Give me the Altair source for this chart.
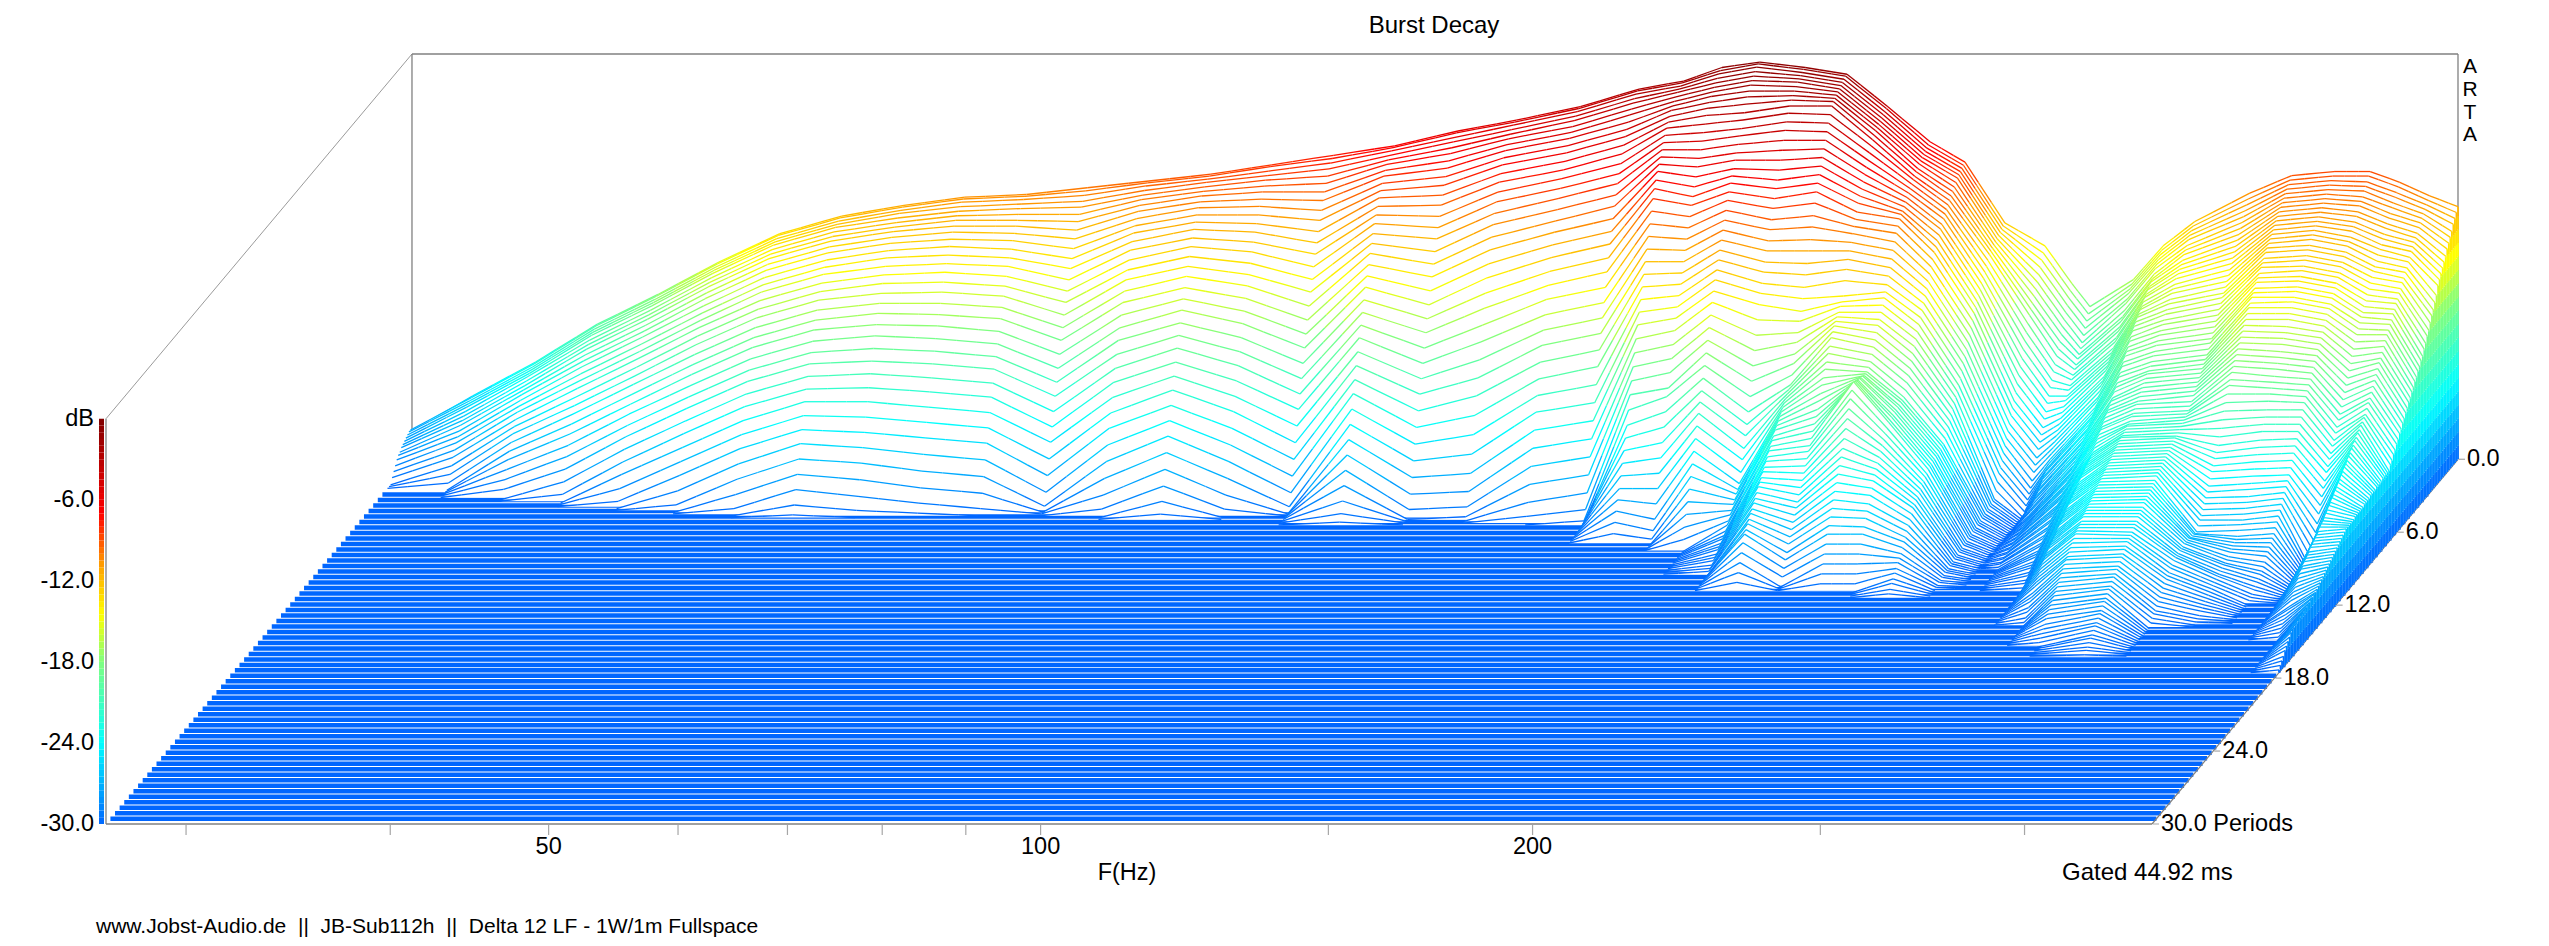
import altair as alt
import numpy as np
import pandas as pd

# dB above the -30 dB floor, in tenths, per frequency column, every 0.15 period; after the list: floor
c027=[21,23,23,22,21,20,19,18,16,15,13,10,7,4,0]
c029=[47,47,46,45,44,42,40,38,36,33,30,27,23,19,14,9,4,0]
c032=[72,72,71,70,69,68,66,64,62,60,57,54,51,47,43,39,34,29,24,18,12,6,0]
c035=[100,100,99,98,97,95,93,91,88,85,82,78,74,70,65,60,55,49,43,36,29,21,13,5,0]
c038=[122,122,121,120,119,117,115,113,110,107,104,100,96,92,87,82,77,71,65,59,52,45,37,29,21,12,4,0]
c041=[146,146,145,144,143,141,139,137,134,131,127,123,119,115,110,105,99,93,87,80,73,66,58,50,41,32,23,13,4,0]
c045=[167,167,166,165,164,162,160,158,155,152,148,144,140,135,130,125,119,113,107,100,93,86,78,70,61,52,43,33,23,13,4,0]
c049=[180,180,179,178,177,175,173,171,168,165,161,157,153,148,143,138,132,126,120,113,106,99,91,83,75,66,57,48,38,28,18,8,2,0]
c054=[188,188,187,186,184,182,180,178,175,172,168,164,159,154,149,143,137,131,124,117,109,101,93,84,75,65,55,45,35,24,13,4,0]
c058=[194,194,193,191,189,187,185,182,179,175,171,166,161,156,150,144,137,130,123,115,107,99,90,81,71,61,51,40,29,18,8,2,0]
c064=[196,196,195,193,191,188,185,182,178,174,169,164,159,153,147,141,134,127,119,111,103,95,86,77,67,57,47,36,25,14,4,0]
c069=[201,200,198,195,192,188,184,179,174,168,162,156,149,142,135,127,119,111,102,93,84,75,65,55,45,34,23,12,3,0]
c076=[206,206,205,203,201,199,196,193,189,185,181,176,171,165,159,153,146,139,131,123,115,106,97,88,78,68,58,47,36,25,14,5,0]
c083=[211,211,210,209,207,205,203,200,197,193,189,185,180,175,169,163,157,150,143,136,128,120,112,103,94,85,75,65,55,44,33,22,12,4,0]
c090=[218,218,216,214,212,209,206,202,198,193,188,183,177,171,164,157,150,142,134,126,117,108,99,89,79,69,58,47,36,25,14,5,0]
c098=[225,224,222,219,215,211,206,201,195,189,182,175,168,160,152,144,135,126,117,108,98,88,78,68,57,46,35,24,13,4,0]
c107=[232,232,231,229,227,225,222,219,215,211,207,202,197,192,186,180,174,167,160,153,145,137,129,121,112,103,94,85,75,65,55,45,35,25,15,7,2,0]
c117=[243,243,241,239,236,233,229,225,220,215,209,203,196,189,182,174,166,158,149,140,131,122,112,102,92,82,71,60,49,38,27,16,6,0]
c127=[251,251,250,248,246,244,241,238,234,230,225,220,214,208,201,194,186,178,169,160,150,140,129,118,106,94,82,69,56,43,30,18,8,2,0]
c139=[261,261,260,258,256,253,250,247,243,239,234,229,224,218,212,205,198,191,183,175,166,157,148,138,128,118,107,96,85,74,62,50,38,26,14,5,0]
c151=[274,274,273,271,269,266,263,259,255,251,246,241,235,229,223,216,209,201,193,185,176,167,157,147,137,127,116,105,93,81,69,57,45,33,21,10,3,0]
c161=[280,280,279,278,277,275,273,271,269,266,263,260,256,252,248,244,240,236,231,226,220,212,204,196,188,180,172,164,156,148,140,131,122,113,104,95,85,75,67,59,51,43,35,28,21,14,7,0]
c170=[290,289,288,286,284,282,280,278,275,272,268,263,258,253,248,243,238,232,226,220,215,208,201,194,187,180,173,166,159,152,145,137,128,119,110,100,95,85,75,65,55,45,35,25,15,8,3,0]
c179=[294,294,293,291,289,287,285,282,279,275,270,266,261,257,252,247,243,238,234,230,225,220,214,208,202,196,190,184,178,172,165,158,150,142,134,126,118,110,102,95,88,80,72,64,56,48,40,32,24,16,8,0]
c191=[290,290,289,288,287,286,284,282,280,278,275,271,266,261,255,249,243,237,231,226,220,214,207,201,194,188,181,175,168,162,155,145,135,125,115,105,95,85,77,70,62,55,47,40,37,35,32,30,27,25,22,20,17,15,14,12,11,10,8,7,6,4,3,2,0]
c202=[285,285,284,283,282,281,280,279,278,277,275,270,265,260,255,250,245,240,235,230,225,218,210,203,195,188,180,173,165,158,150,144,137,131,124,118,111,105,103,101,99,97,95,93,91,89,87,85,82,80,77,75,72,70,67,65,62,60,58,55,52,50,47,45,42,40,37,35,30,24,18,12,6,0]
c214=[261,261,260,259,258,257,256,255,254,252,250,247,243,239,235,231,227,223,219,215,210,206,202,198,193,188,183,177,170,160,157,155,152,150,148,146,143,140,135,131,126,122,117,113,108,104,99,95,91,87,83,79,76,72,68,64,60,56,52,48,45,41,37,33,29,25,20,16,11,6,0]
c228=[235,234,233,232,231,230,229,228,226,225,223,222,220,218,216,214,212,210,208,207,205,201,197,192,187,182,177,172,167,163,160,156,152,148,145,141,137,133,129,125,122,120,120,120,121,121,122,122,123,124,125,120,115,109,103,97,91,85,80,75,70,65,60,55,50,45,40,35,29,23,17,11,5,0]
c239=[220,219,218,217,216,215,213,211,209,207,205,203,201,199,197,194,192,189,186,183,180,176,172,168,164,160,156,152,148,144,140,136,132,128,124,120,116,112,108,104,100,99,99,98,98,97,97,96,96,95,95,92,89,86,83,80,77,74,71,68,65,61,57,52,48,44,39,35,29,23,17,11,5,0]
c253=[175,174,173,172,171,170,169,168,167,166,165,162,159,156,153,150,147,144,141,138,135,131,127,123,119,115,111,107,103,99,95,92,89,86,83,80,77,74,71,68,65,65,64,64,63,63,62,62,61,61,60,58,57,55,54,52,51,49,48,46,45,42,39,36,33,30,28,25,22,20,18,15,13,10,8,5,3,0]
c268=[158,154,150,146,142,138,134,130,126,123,120,115,110,105,100,95,90,85,80,75,70,66,62,57,53,49,45,41,37,33,30,25,20,15,15,14,14,13,13,12,12,12,11,11,11,10,10,10,9,9,9,8,8,8,7,7,7,6,6,6,5,5,5,4,4,4,3,3,2,2,1,1,0]
c278=[130,126,122,118,114,110,106,102,98,94,90,85,81,76,72,67,63,58,54,49,45,41,37,32,28,24,19,15,12,9,6,3,0]
c285=[113,109,105,101,97,93,90,87,85,82,80,77,75,72,70,67,65,62,59,56,53,50,47,44,41,38,35,33,31,30,28,27,25,23,22,20,19,17,15,14,12,11,11,10,9,9,8,8,7,7,6,6,5,5,4,4,3,3,2,2,1,0]
c303=[133,131,129,127,124,122,118,115,113,110,108,105,103,100,98,96,94,92,90,87,85,83,80,77,75,72,70,68,67,65,63,62,60,58,57,55,53,52,50,48,47,45,44,43,41,40,39,37,36,35,33,32,31,30,28,27,25,24,22,21,19,18,16,15,14,12,11,10,8,7,5,4,2,0]
c316=[158,156,154,152,150,148,145,143,142,140,139,137,136,134,132,131,129,128,126,124,122,119,117,114,112,110,107,105,102,100,97,95,93,90,89,87,85,84,82,80,78,77,75,73,71,69,67,66,65,64,63,62,61,60,59,57,56,55,54,53,52,51,50,48,47,46,45,44,43,41,40,39,38,37,36,35,33,32,31,29,27,25,23,21,19,16,14,12,9,7,4,2,0]
c330=[176,174,172,170,168,165,163,161,158,156,154,152,150,147,145,143,140,138,135,133,130,128,125,123,120,118,115,113,110,108,106,105,103,101,99,97,95,93,92,90,88,87,85,84,84,83,82,81,81,80,79,78,77,76,75,74,73,72,71,70,69,68,67,66,65,64,63,62,61,60,59,58,57,56,54,53,52,51,50,48,46,44,42,40,39,37,35,33,31,29,27,25,23,21,19,17,15,13,10,8,6,4,2,0]
c357=[197,194,191,188,185,182,179,176,173,170,167,164,161,158,155,152,149,146,144,141,138,135,132,129,126,123,121,118,115,113,111,109,107,105,103,101,99,97,94,92,90,89,88,87,86,85,84,83,82,82,81,80,79,78,77,76,75,74,73,72,71,70,68,67,66,65,64,63,62,61,59,58,57,56,54,53,52,50,49,48,47,45,44,42,41,39,37,36,34,33,31,29,28,26,24,23,21,19,18,16,14,13,11,9,8,6,4,3,1,0]
c379=[210,208,206,204,202,200,198,196,194,192,190,188,186,184,182,180,178,176,173,171,169,166,164,162,159,157,155,152,150,147,144,141,138,135,132,129,126,123,120,117,113,110,105,100,95,90,85,80,75,71,68,64,61,57,53,50,47,44,41,38,36,33,30,30,31,31,31,32,32,32,32,31,31,31,30,30,30,29,27,26,24,23,22,20,18,16,14,12,10,8,7,5,3,0]
c402=[213,211,209,207,205,203,201,199,197,195,193,191,189,187,185,183,180,178,175,173,170,168,165,163,160,158,155,153,150,147,144,140,137,134,131,127,124,121,118,114,111,108,105,101,96,92,88,84,79,75,71,67,63,59,55,52,48,45,42,39,36,34,31,28,27,26,25,24,23,21,20,19,19,18,17,16,16,15,14,13,12,11,10,9,8,7,6,5,3,2,1,0]
c423=[213,211,208,206,204,201,199,197,194,192,189,187,185,182,180,178,175,173,170,168,165,163,160,158,155,153,150,148,145,142,139,136,133,130,127,124,121,118,115,112,109,106,103,100,96,92,88,84,80,76,72,68,64,60,57,54,51,48,45,42,39,36,33,30,28,26,24,22,20,17,15,13,12,10,9,7,6,4,3,2,0]
c441=[205,203,200,198,195,193,190,188,185,183,180,178,175,173,170,167,164,162,159,156,153,150,147,144,141,139,136,133,130,126,122,118,114,110,106,102,98,94,90,86,83,79,76,72,69,65,62,58,55,50,46,41,36,31,25,20,15,10,5,0]
c460=[195,193,191,189,187,185,183,181,178,176,174,172,170,167,165,162,160,157,155,152,150,147,145,142,140,137,135,132,130,127,124,121,118,116,113,110,107,104,101,98,96,93,90,89,87,86,84,83,81,80,78,77,75,74,72,71,70,68,67,65,64,62,61,59,58,56,55,53,52,50,49,48,47,45,44,43,42,41,40,38,37,36,35,33,32,30,28,26,24,22,20,18,15,14,12,10,8,6,4,2,0]
c479=[187,184,181,178,174,171,168,165,161,158,155,152,149,146,140,136,132,129,125,121,118,114,111,107,105,102,100,97,95,92,90,87,85,82,80,77,75,72,70,67,65,62,60,57,55,52,52,52,52,52,51,51,51,51,50,50,50,50,49,49,49,49,48,48,48,48,48,48,47,47,47,47,47,47,46,45,44,43,42,41,40,39,38,37,36,35,34,33,32,31,30,29,28,27,27,26,26,25,25,24,24,23,23,22,22,21,21,20,20,19,17,15,13,11,8,6,4,2,0]

FREQS=[26.8,29.2,31.9,34.8,37.9,41.3,45.0,49.1,53.6,58.4,63.7,69.4,75.7,82.6,90.0,98.2,107,117,127,139,151,160.8,169.7,179,190.8,202.4,214.4,227.5,239,252.8,267.5,277.9,285,303,316,330.4,357,378.7,402,423,441,460,478.7]
COLS=[c027,c029,c032,c035,c038,c041,c045,c049,c054,c058,c064,c069,c076,c083,c090,c098,c107,c117,c127,c139,c151,c161,c170,c179,c191,c202,c214,c228,c239,c253,c268,c278,c285,c303,c316,c330,c357,c379,c402,c423,c441,c460,c479]
DT=0.15
F_TICKS=[30,40,50,60,70,80,90,100,150,200,300,400]
F_LABELS=[50,100,200]
DB_TICKS=[-30,-24,-18,-12,-6]
PERIOD_TICKS=[0,6,12,18,24,30]
PERIOD_TEXT=["0.0","6.0","12.0","18.0","24.0","30.0 Periods"]
COLOR_DB=[-30,-24,-18,-14.5,-11,-7,0]
COLOR_HEX=["#0066ff","#00ffff","#80ff80","#ffff00","#ffa500","#ff0000","#800000"]
FOOTER="www.Jobst-Audio.de\u00a0 ||\u00a0 JB-Sub112h\u00a0 ||\u00a0 Delta 12 LF - 1W/1m Fullspace"
FONT="Liberation Sans"
W,H=2352,770
SHIFT_OCT=306/492
DROP_DB=27.0
F0,F1=FREQS[0],FREQS[-1]

def fe(f,t): return f*2**(-SHIFT_OCT*t/30)
def ye(db,t): return db-DROP_DB*t/30

xs=alt.Scale(type="log",domain=[fe(F0,30),F1],range=[0,W],nice=False,clamp=False)
ys=alt.Scale(domain=[-57,0],range=[H,0],nice=False)
cs=alt.Scale(domain=COLOR_DB,range=COLOR_HEX,interpolate="rgb",clamp=True)

def X(n): return alt.X(n+":Q",scale=xs,axis=None)
def Y(n): return alt.Y(n+":Q",scale=ys,axis=None)
def C(n): return alt.Color(n+":Q",scale=cs,legend=None)

def rules(df,color=None,sw=1.3,opacity=1):
    m=alt.Chart(df).mark_rule(strokeWidth=sw,opacity=opacity,strokeCap="butt",**({"color":color} if color else {}))
    enc=dict(x=X("x0"),x2="x1",y=Y("y0"),y2="y1")
    if not color: enc["color"]=C("db")
    return m.encode(**enc)

layers=[]
# floor bands
band_t=np.arange(2.9,30.0,0.452)
floor=pd.DataFrame({"x0":[fe(F0,t) for t in band_t],"x1":[fe(F1,t) for t in band_t],
                    "y0":[ye(-30,t) for t in band_t],"y1":[ye(-30,t) for t in band_t]})
layers.append(rules(floor,color="#0066ff",sw=4.5))

# frame
fr=[(F0,0,-30,F0,0,0,1.3),(F0,0,0,F1,0,0,1.3),(F1,0,0,F1,0,-30,1.3),(F0,0,0,F0,30,0,.8),
    (F1,0,-30,F1,30,-30,1.2),(F0,30,-30,F1,30,-30,1.6),(F0,30,-30,F0,30,0,1.3)]
for w in sorted({r[6] for r in fr}):
    d=pd.DataFrame([{"x0":fe(a,b),"y0":ye(c,b),"x1":fe(d_,e),"y1":ye(g,e)} for a,b,c,d_,e,g,ww in fr if ww==w])
    layers.append(rules(d,color="#808080",sw=w))

# slices, back to front (white fill hides what is behind)
n_slices=max(len(c) for c in COLS)
def level(col,i): return (col[i] if i<len(col) else 0)/10-30
for i in range(n_slices):
    t=i*DT
    rows=[{"x":fe(f,t),"y":ye(level(c,i),t),"b":ye(-30,t)} for f,c in zip(FREQS,COLS)]
    df=pd.DataFrame(rows)
    layers.append(alt.Chart(df).mark_area(color="white",opacity=1,interpolate="linear").encode(x=X("x"),y=Y("y"),y2="b:Q"))
    segs=[]
    for j in range(len(FREQS)-1):
        a,b=level(COLS[j],i),level(COLS[j+1],i)
        if a<=-30 and b<=-30: continue
        xa,xb=np.log(fe(FREQS[j],t)),np.log(fe(FREQS[j+1],t))
        for k in range(3):
            u0,u1=k/3,(k+1)/3
            segs.append({"x0":float(np.exp(xa+(xb-xa)*u0)),"x1":float(np.exp(xa+(xb-xa)*u1)),
                         "y0":ye(a+(b-a)*u0,t),"y1":ye(a+(b-a)*u1,t),"db":a+(b-a)*(u0+u1)/2})
    if segs: layers.append(rules(pd.DataFrame(segs)))

# right-hand end wall
caps=[]
for i in range(len(c479)):
    t=i*DT; top=level(c479,i); x=fe(F1,t); lo=-30.0
    while lo<top:
        hi=min(lo+1,top)
        caps.append({"x0":x,"x1":x,"y0":ye(lo,t),"y1":ye(hi,t),"db":(lo+hi)/2}); lo=hi
layers.append(rules(pd.DataFrame(caps),sw=1.8))

# colour bar
bar_db=np.arange(-30,0,0.5)
bar=pd.DataFrame({"y0":bar_db-DROP_DB,"y1":bar_db+0.5-DROP_DB,"db":bar_db+.25})
layers.append(alt.Chart(bar).mark_rect().encode(x=alt.value(-7),x2=alt.value(-2),y=Y("y0"),y2="y1:Q",color=C("db")))

# tick marks and labels
tx=pd.DataFrame({"x":[fe(f,30) for f in F_TICKS],"y":[ye(-30,30)]*len(F_TICKS)})
layers.append(alt.Chart(tx).mark_tick(color="#808080",orient="vertical",size=10,thickness=1.2,yOffset=6).encode(x=X("x"),y=Y("y")))
lx=pd.DataFrame({"x":[fe(f,30) for f in F_LABELS],"y":[ye(-30,30)]*3,"t":[str(f) for f in F_LABELS]})
layers.append(alt.Chart(lx).mark_text(font=FONT,fontSize=23.5,color="black",baseline="middle",dy=23).encode(x=X("x"),y=Y("y"),text="t:N"))
ly=pd.DataFrame({"y":[ye(d,30) for d in DB_TICKS],"t":[f"{d}.0" for d in DB_TICKS]})
layers.append(alt.Chart(ly).mark_text(font=FONT,fontSize=23.5,color="black",align="right",baseline="middle").encode(x=alt.value(-12),y=Y("y"),text="t:N"))
lp=pd.DataFrame({"x":[fe(F1,t) for t in PERIOD_TICKS],"y":[ye(-30,t) for t in PERIOD_TICKS],"t":PERIOD_TEXT})
layers.append(alt.Chart(lp).mark_text(font=FONT,fontSize=23.5,color="black",align="left",baseline="middle",dx=9).encode(x=X("x"),y=Y("y"),text="t:N"))
layers.append(alt.Chart(lp).mark_tick(color="#808080",orient="horizontal",size=6,thickness=1.2,xOffset=4).encode(x=X("x"),y=Y("y")))

# free text, positions relative to the plot area origin at (106, 54)
labels=[("Burst Decay",1328,-28,"center",24),("dB",-12,365,"right",23.5),("F(Hz)",1021,819,"center",23.5),
        ("Gated 44.92 ms",1956,819,"left",24),("A",2364,13,"center",21),("R",2364,36,"center",21),
        ("T",2364,59,"center",21),("A",2364,81,"center",21),(FOOTER,-10,873,"left",21)]
for s,x,y,a,fs in labels:
    layers.append(alt.Chart(pd.DataFrame({"t":[s]})).mark_text(font=FONT,fontSize=fs,color="black",align=a,baseline="middle")
                  .encode(x=alt.value(x),y=alt.value(y),text="t:N"))

chart=alt.layer(*layers).properties(width=W,height=H,padding={"left":98,"top":46,"right":60,"bottom":116},
    autosize=alt.AutoSizeParams(type="none"),background="white").configure_view(stroke=None)
chart.save("out.html",embed_options={"renderer":"svg","actions":False})
